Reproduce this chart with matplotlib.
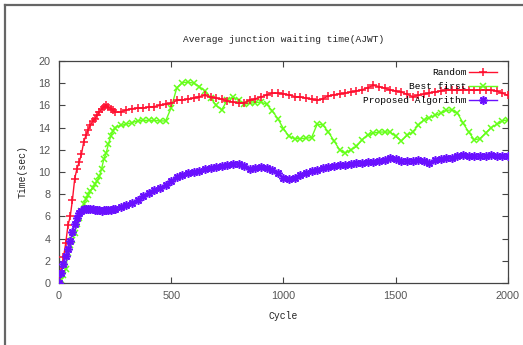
import matplotlib
matplotlib.use("Agg")
import matplotlib.pyplot as plt
from matplotlib.lines import Line2D

cycles = [0, 10, 20, 30, 40, 50, 60, 70, 80, 90, 100, 110, 120, 130, 140, 150, 160, 170, 180, 190, 200,
          210, 220, 230, 240, 250, 275, 300, 325, 350, 375, 400, 425, 450, 475, 500, 525, 550, 575, 600,
          625, 650, 675, 700, 725, 750, 775, 800, 825, 850, 875, 900, 925, 950, 975, 1000, 1025, 1050,
          1075, 1100, 1125, 1150, 1175, 1200, 1225, 1250, 1275, 1300, 1325, 1350, 1375, 1400, 1425, 1450,
          1475, 1500, 1525, 1550, 1575, 1600, 1625, 1650, 1675, 1700, 1725, 1750, 1775, 1800, 1825, 1850,
          1875, 1900, 1925, 1950, 1975, 2000]

random_vals = [0, 1.1, 2.3, 3.6, 5.2, 6.0, 7.5, 9.4, 10.3, 10.9, 11.6, 12.7, 13.3, 13.8, 14.2, 14.6, 14.8,
               15.1, 15.4, 15.7, 15.9, 16.0, 15.85, 15.7, 15.55, 15.4, 15.4, 15.6, 15.7, 15.75, 15.75, 15.85,
               15.9, 16.0, 16.1, 16.2, 16.45, 16.5, 16.55, 16.65, 16.8, 16.9, 16.75, 16.65, 16.55, 16.4, 16.3,
               16.2, 16.25, 16.45, 16.6, 16.75, 16.95, 17.1, 17.1, 17.05, 16.95, 16.8, 16.75, 16.65, 16.55,
               16.45, 16.6, 16.85, 16.95, 17.05, 17.1, 17.2, 17.3, 17.4, 17.6, 17.8, 17.7, 17.55, 17.4, 17.3,
               17.2, 17.0, 16.8, 16.9, 17.0, 17.15, 17.2, 17.3, 17.4, 17.4, 17.35, 17.4, 17.4, 17.35, 17.4,
               17.4, 17.35, 17.3, 17.1, 16.9]

best_first_vals = [0, 0.3, 0.7, 1.3, 2.7, 3.4, 3.9, 4.5, 5.3, 5.9, 6.5, 7.1, 7.6, 7.9, 8.3, 8.6, 8.9, 9.2,
                   9.6, 10.3, 11.2, 11.7, 12.5, 13.2, 13.7, 14.0, 14.2, 14.3, 14.45, 14.6, 14.65, 14.65,
                   14.65, 14.6, 14.6, 15.8, 17.6, 18.05, 18.1, 18.0, 17.7, 17.3, 16.7, 16.0, 15.6, 16.5,
                   16.75, 16.5, 16.1, 16.2, 16.25, 16.3, 16.1, 15.5, 14.8, 13.9, 13.2, 13.0, 13.0, 13.05,
                   13.1, 14.3, 14.25, 13.6, 12.8, 12.0, 11.7, 12.0, 12.3, 12.9, 13.35, 13.5, 13.6, 13.6,
                   13.6, 13.2, 12.8, 13.3, 13.6, 14.2, 14.7, 14.9, 15.1, 15.3, 15.55, 15.6, 15.3, 14.4,
                   13.6, 12.9, 13.0, 13.5, 14.0, 14.3, 14.6, 14.7]

proposed_vals = [0, 0.9, 1.7, 2.4, 3.1, 3.8, 4.6, 5.3, 5.9, 6.3, 6.5, 6.7, 6.7, 6.7, 6.7, 6.65, 6.6, 6.55,
                 6.55, 6.5, 6.55, 6.55, 6.6, 6.6, 6.65, 6.7, 6.85, 7.0, 7.2, 7.5, 7.8, 8.1, 8.35, 8.55,
                 8.85, 9.2, 9.55, 9.75, 9.9, 10.0, 10.1, 10.25, 10.35, 10.45, 10.5, 10.6, 10.75, 10.7,
                 10.5, 10.3, 10.4, 10.45, 10.4, 10.2, 9.9, 9.5, 9.35, 9.5, 9.75, 9.9, 10.05, 10.2, 10.35,
                 10.45, 10.55, 10.6, 10.65, 10.75, 10.8, 10.85, 10.9, 10.9, 11.0, 11.1, 11.25, 11.2, 11.0,
                 10.95, 11.0, 11.05, 10.95, 10.8, 11.1, 11.2, 11.25, 11.3, 11.4, 11.5, 11.45, 11.4, 11.4,
                 11.45, 11.5, 11.45, 11.4, 11.4]

series_labels = ["Random", "Best first", "Proposed Algorithm"]
x_ticks = [0, 500, 1000, 1500, 2000]
y_ticks = [0, 2, 4, 6, 8, 10, 12, 14, 16, 18, 20]

mono = "Liberation Mono"
tick_font = "Liberation Sans"

fig = plt.figure(figsize=(5.23, 3.45), dpi=100)
ax = fig.add_axes([0.1128, 0.1797, 0.8585, 0.6435])

ax.plot(cycles, random_vals, color="#ff1030", marker="+", markersize=6, markeredgewidth=1.1,
        linewidth=1.0, label=series_labels[0], zorder=3)
ax.plot(cycles, best_first_vals, color="#66ff1a", marker="x", markersize=5, markeredgewidth=1.1,
        linewidth=1.0, label=series_labels[1], zorder=2)
ax.plot(cycles, proposed_vals, color="#6a10ff", marker=(8, 2, 0), markersize=6, markeredgewidth=1.2,
        linewidth=1.0, label=series_labels[2], zorder=4)

ax.set_xlim(0, 2000)
ax.set_ylim(0, 20)
ax.set_xticks(x_ticks)
ax.set_yticks(y_ticks)
ax.tick_params(direction="in", top=True, right=True, length=4, width=0.8, colors="#444444",
               labelcolor="#555555", labelsize=7.8, pad=6)
for lab in ax.get_xticklabels() + ax.get_yticklabels():
    lab.set_fontfamily(tick_font)
for s in ax.spines.values():
    s.set_color("#444444")
    s.set_linewidth(0.9)

ax.set_title("Average junction waiting time(AJWT)", fontfamily=mono, fontsize=6.8, pad=14, color="#222222")
ax.set_xlabel("Cycle", fontfamily=mono, fontsize=7, labelpad=7, color="#222222")
ax.set_ylabel("Time(sec)", fontfamily=mono, fontsize=7, labelpad=8, color="#222222")

leg = ax.legend(loc="upper right", bbox_to_anchor=(0.985, 0.985), frameon=False, markerfirst=False,
                prop={"family": mono, "size": 6.8}, handlelength=3.0, handletextpad=0.3,
                labelspacing=0.55, borderaxespad=0)
for col in leg._legend_handle_box.get_children():
    col.align = "right"

fig.add_artist(Line2D([5 / 523, 5 / 523], [0, 1 - 5 / 345], transform=fig.transFigure,
                      color="#666666", linewidth=1.6))
fig.add_artist(Line2D([5 / 523, 1], [1 - 5 / 345, 1 - 5 / 345], transform=fig.transFigure,
                      color="#666666", linewidth=1.6))

fig.savefig("out.png", dpi=100)
